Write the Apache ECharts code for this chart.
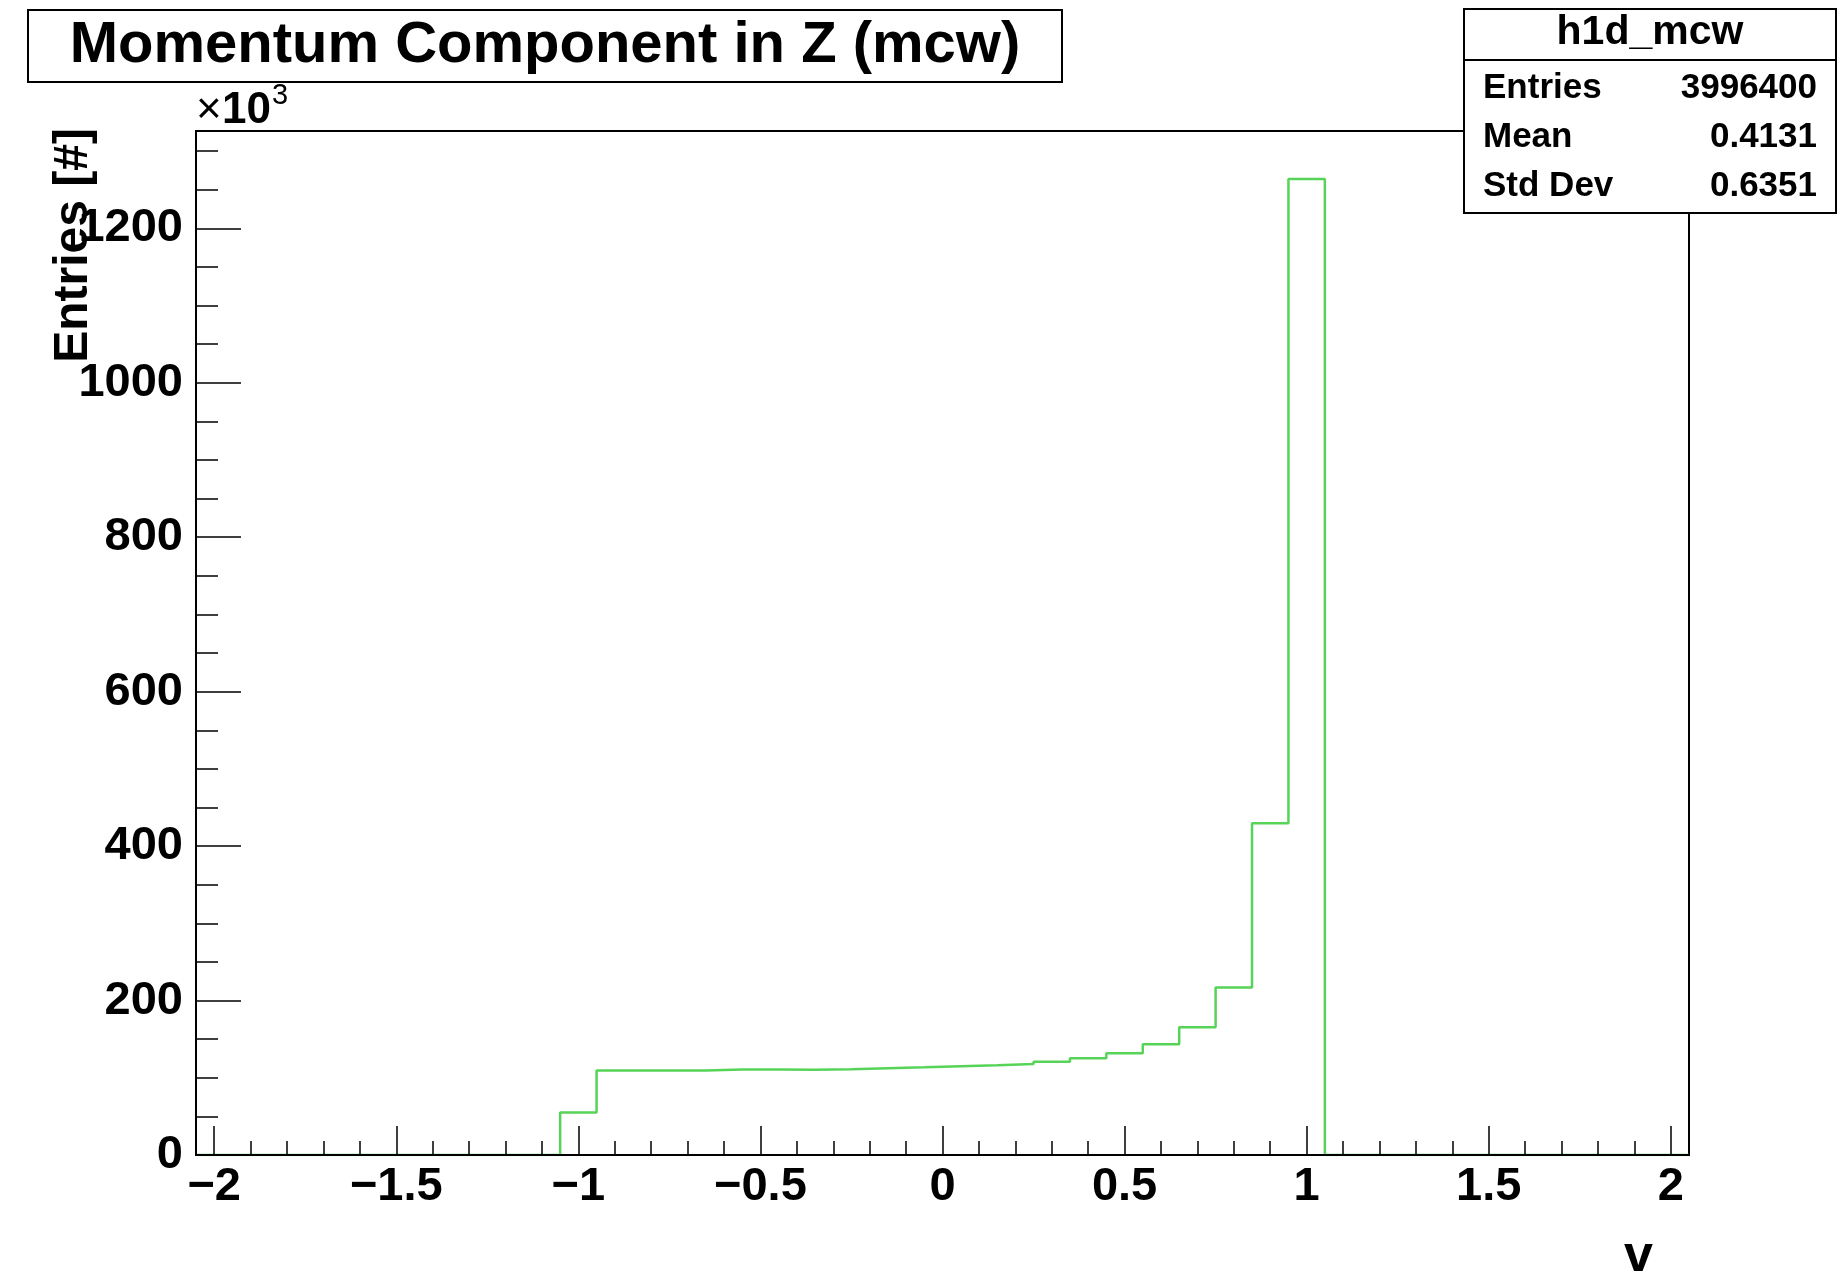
<!DOCTYPE html>
<html>
<head>
<meta charset="utf-8">
<script src="https://cdn.jsdelivr.net/npm/echarts@6/dist/echarts.min.js"></script>
<style>
html,body{margin:0;padding:0;background:#fff;}
#c{width:1838px;height:1280px;}
</style>
</head>
<body>
<div id="c"></div>
<script>
// ---- data (counts in thousands) ----
const binCenters = [-2.0,-1.9,-1.8,-1.7,-1.6,-1.5,-1.4,-1.3,-1.2,-1.1,
  -1.0,-0.9,-0.8,-0.7,-0.6,-0.5,-0.4,-0.3,-0.2,-0.1,
  0.0,0.1,0.2,0.3,0.4,0.5,0.6,0.7,0.8,0.9,1.0,
  1.1,1.2,1.3,1.4,1.5,1.6,1.7,1.8,1.9,2.0];
const counts = [0,0,0,0,0,0,0,0,0,0,
  55.0,109.3,109.3,109.5,110.8,110.8,110.5,110.9,112.2,113.5,
  114.9,116.2,117.9,120.9,125.2,131.7,143.4,165.4,216.8,429.5,1264.0,
  0,0,0,0,0,0,0,0,0,0];
const binWidth = 0.1;

const xTickValues = [-2,-1.5,-1,-0.5,0,0.5,1,1.5,2];
const xTickLabels = ['\u22122','\u22121.5','\u22121','\u22120.5','0','0.5','1','1.5','2'];
const yTickValues = [0,200,400,600,800,1000,1200];
const yTickLabels = ['0','200','400','600','800','1000','1200'];

const titleText = 'Momentum Component in Z (mcw)';
const statsName = 'h1d_mcw';
const statsLabels = ['Entries','Mean','Std Dev'];
const statsValues = ['3996400','0.4131','0.6351'];
const xTitle = 'v';
const yTitle = 'Entries [#]';

// ---- build ----
const xMinor = [];
for (let i = -20; i <= 20; i++) xMinor.push(+(i * 0.1).toFixed(2));
const yMinor = [];
for (let v = 0; v <= 1300; v += 50) yMinor.push(v);

const stepPts = [];
binCenters.forEach((c, i) => {
  stepPts.push([+(c - binWidth / 2).toFixed(3), counts[i]]);
  stepPts.push([+(c + binWidth / 2).toFixed(3), counts[i]]);
});

const FONT = "'Liberation Sans', Arial, Helvetica, sans-serif";
const chart = echarts.init(document.getElementById('c'), null, {renderer: 'canvas'});

const lbl = (v, vals, labs) => {
  const i = vals.findIndex(t => Math.abs(t - v) < 1e-6);
  return i >= 0 ? labs[i] : '';
};

const statsG = [];
statsG.push({type:'rect', shape:{x:1464, y:9, width:372, height:204}, style:{fill:'#fff', stroke:'#000', lineWidth:2}, z:10});
statsG.push({type:'line', shape:{x1:1464, y1:60, x2:1836, y2:60}, style:{stroke:'#000', lineWidth:2}, z:11});
statsG.push({type:'text', x:1650, y:33, z:11, style:{text:statsName, font:'bold 41px ' + FONT, fill:'#000', textAlign:'center', textVerticalAlign:'middle'}});
const rowY = [88, 137, 186];
statsLabels.forEach((t, i) => {
  statsG.push({type:'text', x:1483, y:rowY[i], z:11, style:{text:t, font:'bold 35px ' + FONT, fill:'#000', textAlign:'left', textVerticalAlign:'middle'}});
  statsG.push({type:'text', x:1817, y:rowY[i], z:11, style:{text:statsValues[i], font:'bold 35px ' + FONT, fill:'#000', textAlign:'right', textVerticalAlign:'middle'}});
});

chart.setOption({
  animation: false,
  backgroundColor: '#fff',
  grid: {left:196, right:149, top:131, bottom:125, show:true, borderColor:'#000', borderWidth:2, backgroundColor:'transparent'},
  xAxis: [
    {type:'value', min:-2.05, max:2.05, z:5,
      axisLine:{show:true, onZero:false, lineStyle:{color:'#000', width:2}},
      axisTick:{show:true, inside:true, length:29, customValues:xTickValues, lineStyle:{color:'#000', width:1.5}},
      axisLabel:{show:true, customValues:xTickValues, margin:9, color:'#000', fontFamily:FONT, fontWeight:'bold', fontSize:47,
        formatter: v => lbl(v, xTickValues, xTickLabels)},
      splitLine:{show:false}},
    {type:'value', min:-2.05, max:2.05, position:'bottom', z:5,
      axisLine:{show:false, onZero:false},
      axisTick:{show:true, inside:true, length:14, customValues:xMinor, lineStyle:{color:'#000', width:1.5}},
      axisLabel:{show:false}, splitLine:{show:false}}
  ],
  yAxis: [
    {type:'value', min:0, max:1326, z:5,
      axisLine:{show:true, onZero:false, lineStyle:{color:'#000', width:2}},
      axisTick:{show:true, inside:true, length:45, customValues:yTickValues, lineStyle:{color:'#000', width:1.5}},
      axisLabel:{show:true, customValues:yTickValues, margin:13, color:'#000', fontFamily:FONT, fontWeight:'bold', fontSize:47,
        padding:[3,0,0,0],
        formatter: v => lbl(v, yTickValues, yTickLabels)},
      splitLine:{show:false}},
    {type:'value', min:0, max:1326, position:'left', z:5,
      axisLine:{show:false, onZero:false},
      axisTick:{show:true, inside:true, length:22, customValues:yMinor, lineStyle:{color:'#000', width:1.5}},
      axisLabel:{show:false}, splitLine:{show:false}}
  ],
  series: [{
    type:'line', xAxisIndex:0, yAxisIndex:0, data:stepPts, showSymbol:false, symbol:'none',
    lineStyle:{color:'#57d457', width:2.5}, z:2, clip:true
  }],
  graphic: [
    {type:'rect', shape:{x:28, y:10, width:1034, height:72}, style:{fill:'#fff', stroke:'#000', lineWidth:2}, z:10},
    {type:'text', x:545, y:46, z:11, style:{text:titleText, font:'bold 58px ' + FONT, fill:'#000', textAlign:'center', textVerticalAlign:'middle'}},
    {type:'text', x:196, y:111, z:11, style:{text:'\u00d7', font:'44px ' + FONT, fill:'#000', textAlign:'left', textVerticalAlign:'middle'}},
    {type:'text', x:222, y:111, z:11, style:{text:'10', font:'bold 44px ' + FONT, fill:'#000', textAlign:'left', textVerticalAlign:'middle'}},
    {type:'text', x:272, y:96, z:11, style:{text:'3', font:'29px ' + FONT, fill:'#000', textAlign:'left', textVerticalAlign:'middle'}},
    {type:'text', x:74, y:128, rotation:Math.PI/2, z:11, style:{text:yTitle, font:'bold 48px ' + FONT, fill:'#000', textAlign:'right', textVerticalAlign:'middle'}},
    {type:'text', x:1653, y:1257, z:11, style:{text:xTitle, font:'bold 52px ' + FONT, fill:'#000', textAlign:'right', textVerticalAlign:'middle'}}
  ].concat(statsG)
});
</script>
</body>
</html>
